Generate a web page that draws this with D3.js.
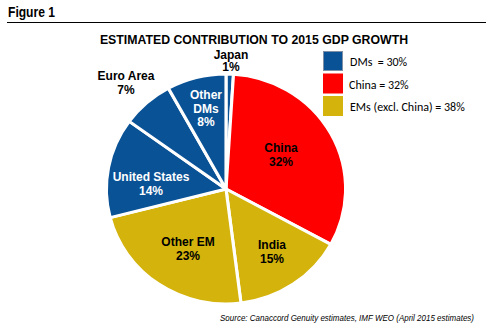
<!DOCTYPE html>
<html>
<head>
<meta charset="utf-8">
<script src="https://cdn.jsdelivr.net/npm/d3@7"></script>
<style>
  body { margin: 0; background: #fff; }
  text { font-family: "Liberation Sans", Arial, sans-serif; }
</style>
</head>
<body>
<div id="chart"></div>
<script>
// data
var regions = ["Japan", "China", "India", "Other EM", "United States", "Euro Area", "Other DMs"];
var shares = [1, 32, 15, 23, 14, 7, 8];
var groups = ["DMs", "China", "EMs", "EMs", "DMs", "DMs", "DMs"];
var legendLabels = ["DMs  = 30%", "China = 32%", "EMs (excl. China) = 38%"];
var legendGroups = ["DMs", "China", "EMs"];

var width = 496, height = 333;
var radius = 115;
var cx = 226, cy = 189;

var color = d3.scaleOrdinal()
    .domain(["DMs", "China", "EMs"])
    .range(["#0a5296", "#ff0000", "#d3b30c"]);

var svg = d3.select("#chart").append("svg")
    .attr("width", width)
    .attr("height", height);

// header
svg.append("text")
    .attr("x", 8).attr("y", 17)
    .attr("textLength", 47)
    .attr("lengthAdjust", "spacingAndGlyphs")
    .style("font-weight", "bold")
    .style("font-size", "14px")
    .text("Figure 1");

svg.append("line")
    .attr("x1", 7).attr("x2", 486)
    .attr("y1", 22.5).attr("y2", 22.5)
    .attr("stroke", "#000").attr("stroke-width", 1);

svg.append("text")
    .attr("x", 254).attr("y", 44)
    .attr("text-anchor", "middle")
    .style("font-weight", "bold")
    .style("font-size", "12.3px")
    .text("ESTIMATED CONTRIBUTION TO 2015 GDP GROWTH");

// pie (a bit wider than tall, like the original)
var pie = d3.pie().sort(null).value(function(d) { return d; });
var arc = d3.arc().innerRadius(0).outerRadius(radius);
var arcs = pie(shares);

var g = svg.append("g").attr("transform", "translate(" + cx + "," + cy + ")");

g.append("g")
    .attr("transform", "scale(1.04,1)")
  .selectAll("path.slice")
    .data(arcs)
    .enter()
    .append("path")
    .attr("class", "slice")
    .attr("d", arc)
    .attr("fill", function(d, i) { return color(groups[i]); })
    .attr("stroke", "#fff")
    .attr("stroke-width", 3)
    .attr("stroke-linejoin", "round");

// label positions (relative to center) and text color
var labelPos = [[5, -130.5], [55, -37], [46, 60], [-38, 57], [-75, -8], [-100, -109], [-20, -90]];
var labelWhite = [false, false, false, false, true, false, true];
var labelLines = [["Japan"], ["China"], ["India"], ["Other EM"], ["United States"], ["Euro Area"], ["Other", "DMs"]];

arcs.forEach(function(d, i) {
  var lines = labelLines[i].concat([shares[i] + "%"]);
  var t = g.append("text")
      .attr("text-anchor", "middle")
      .attr("x", labelPos[i][0])
      .attr("y", labelPos[i][1])
      .style("font-weight", "bold")
      .style("font-size", "12px")
      .attr("fill", labelWhite[i] ? "#fff" : "#000");
  lines.forEach(function(l, j) {
    t.append("tspan")
      .attr("x", labelPos[i][0])
      .attr("dy", j == 0 ? 0 : (i == 0 ? 12.5 : 13.5))
      .text(l);
  });
});

// legend
var legend = svg.append("g").attr("transform", "translate(323,51)");
var items = legend.selectAll("g.item")
    .data(legendLabels)
    .enter()
    .append("g")
    .attr("class", "item")
    .attr("transform", function(d, i) { return "translate(0," + (i * 22.5) + ")"; });

items.append("rect")
    .attr("x", 0.5).attr("y", 0.5)
    .attr("width", 19).attr("height", 19)
    .attr("fill", function(d, i) { return color(legendGroups[i]); })
    .attr("stroke", function(d, i) { return i == 0 ? "#7f8fa6" : color(legendGroups[i]); })
    .attr("stroke-width", 1);

items.append("text")
    .attr("x", function(d, i) { return i == 1 ? 26 : 27; })
    .attr("y", 15)
    .style("font-family", "Carlito, 'Open Sans', sans-serif")
    .style("font-size", "12px")
    .style("white-space", "pre")
    .text(function(d) { return d; });

// source
svg.append("text")
    .attr("x", 474).attr("y", 321)
    .attr("text-anchor", "end")
    .attr("textLength", 254)
    .attr("lengthAdjust", "spacingAndGlyphs")
    .style("font-style", "italic")
    .style("font-size", "8.5px")
    .text("Source: Canaccord Genuity estimates, IMF WEO (April 2015 estimates)");
</script>
</body>
</html>
